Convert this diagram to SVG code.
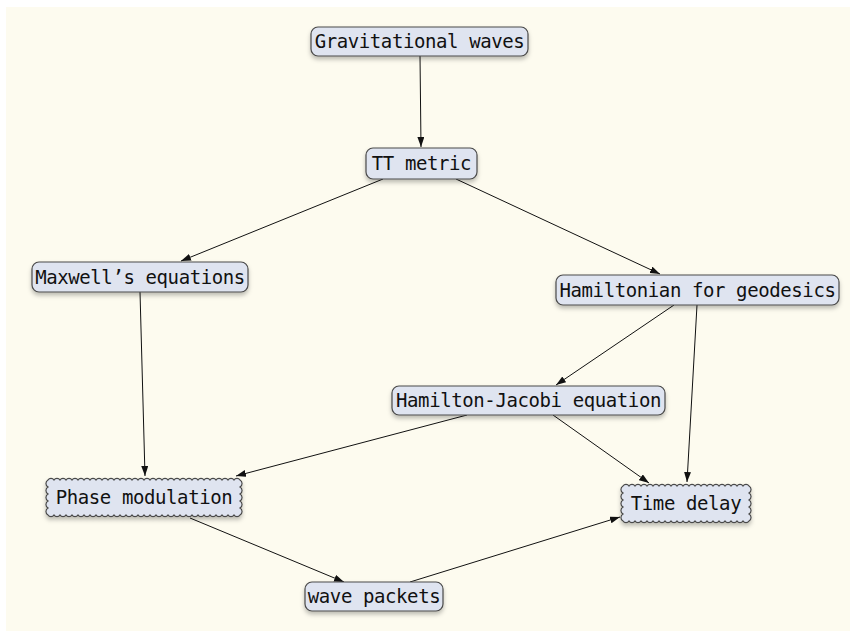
<svg xmlns="http://www.w3.org/2000/svg" width="850" height="631" viewBox="0 0 850 631">
<defs>
<style>
.box{fill:#dfe4f0;stroke:#4a4a4a;stroke-width:1.2;filter:url(#sh)}
.lbl{font-family:"DejaVu Sans Mono","Liberation Mono",monospace;font-size:19px;letter-spacing:-0.4px;fill:#111;text-anchor:middle}
.edge{stroke:#111;stroke-width:1;fill:none;marker-end:url(#ah)}
</style>
<filter id="sh" x="-10%" y="-30%" width="120%" height="170%">
<feDropShadow dx="0" dy="3" stdDeviation="2" flood-color="#000" flood-opacity="0.25"/>
</filter>
<marker id="ah" markerWidth="11" markerHeight="8" refX="10" refY="3.5" orient="auto" markerUnits="userSpaceOnUse">
<path d="M0,0 L10,3.5 L0,7 z" fill="#111"/>
</marker>
</defs>
<rect x="0" y="0" width="850" height="631" fill="#ffffff"/>
<rect x="6" y="7" width="844" height="624" fill="#fdfbef"/>
<g id="connectors">
<line class="edge" x1="420" y1="56" x2="421" y2="147"/>
<line class="edge" x1="383" y1="179" x2="181" y2="261"/>
<line class="edge" x1="456" y1="179" x2="660" y2="274"/>
<line class="edge" x1="140" y1="292" x2="145" y2="476"/>
<line class="edge" x1="674" y1="305" x2="556" y2="385"/>
<line class="edge" x1="697" y1="305" x2="687" y2="482"/>
<line class="edge" x1="467" y1="415" x2="236" y2="476"/>
<line class="edge" x1="553" y1="415" x2="649" y2="483"/>
<line class="edge" x1="190" y1="518" x2="344" y2="582"/>
<line class="edge" x1="410" y1="582" x2="620" y2="517"/>
</g>
<g id="n-gw">
<rect class="box" x="311" y="27" width="217" height="29" rx="7"/>
<text class="lbl" x="419.5" y="48">Gravitational waves</text>
</g>
<g id="n-tt">
<rect class="box" x="366" y="148" width="111" height="31" rx="7"/>
<text class="lbl" x="421.5" y="170">TT metric</text>
</g>
<g id="n-maxwell">
<rect class="box" x="32" y="262" width="216" height="30" rx="7"/>
<text class="lbl" x="140" y="283.5">Maxwell’s equations</text>
</g>
<g id="n-hamiltonian">
<rect class="box" x="556" y="275" width="283" height="30" rx="7"/>
<text class="lbl" x="697.5" y="296.5">Hamiltonian for geodesics</text>
</g>
<g id="n-hj">
<rect class="box" x="392" y="386" width="273" height="29" rx="7"/>
<text class="lbl" x="528.5" y="407">Hamilton-Jacobi equation</text>
</g>
<g id="n-phase">
<path class="box" d="M48,480 a3.5,3.5 0 0 1 6,0 a3.5,3.5 0 0 1 6,0 a3.5,3.5 0 0 1 6,0 a3.5,3.5 0 0 1 6,0 a3.5,3.5 0 0 1 6,0 a3.5,3.5 0 0 1 6,0 a3.5,3.5 0 0 1 6,0 a3.5,3.5 0 0 1 6,0 a3.5,3.5 0 0 1 6,0 a3.5,3.5 0 0 1 6,0 a3.5,3.5 0 0 1 6,0 a3.5,3.5 0 0 1 6,0 a3.5,3.5 0 0 1 6,0 a3.5,3.5 0 0 1 6,0 a3.5,3.5 0 0 1 6,0 a3.5,3.5 0 0 1 6,0 a3.5,3.5 0 0 1 6,0 a3.5,3.5 0 0 1 6,0 a3.5,3.5 0 0 1 6,0 a3.5,3.5 0 0 1 6,0 a3.5,3.5 0 0 1 6,0 a3.5,3.5 0 0 1 6,0 a3.5,3.5 0 0 1 6,0 a3.5,3.5 0 0 1 6,0 a3.5,3.5 0 0 1 6,0 a3.5,3.5 0 0 1 6,0 a3.5,3.5 0 0 1 6,0 a3.5,3.5 0 0 1 6,0 a3.5,3.5 0 0 1 6,0 a3.5,3.5 0 0 1 6,0 a3.5,3.5 0 0 1 6,0 a3.5,3.5 0 0 1 6,0 a4,4 0 0 1 0,7 a4,4 0 0 1 0,7 a4,4 0 0 1 0,7 a4,4 0 0 1 0,7 a4,4 0 0 1 0,7 a3.5,3.5 0 0 1 -6,0 a3.5,3.5 0 0 1 -6,0 a3.5,3.5 0 0 1 -6,0 a3.5,3.5 0 0 1 -6,0 a3.5,3.5 0 0 1 -6,0 a3.5,3.5 0 0 1 -6,0 a3.5,3.5 0 0 1 -6,0 a3.5,3.5 0 0 1 -6,0 a3.5,3.5 0 0 1 -6,0 a3.5,3.5 0 0 1 -6,0 a3.5,3.5 0 0 1 -6,0 a3.5,3.5 0 0 1 -6,0 a3.5,3.5 0 0 1 -6,0 a3.5,3.5 0 0 1 -6,0 a3.5,3.5 0 0 1 -6,0 a3.5,3.5 0 0 1 -6,0 a3.5,3.5 0 0 1 -6,0 a3.5,3.5 0 0 1 -6,0 a3.5,3.5 0 0 1 -6,0 a3.5,3.5 0 0 1 -6,0 a3.5,3.5 0 0 1 -6,0 a3.5,3.5 0 0 1 -6,0 a3.5,3.5 0 0 1 -6,0 a3.5,3.5 0 0 1 -6,0 a3.5,3.5 0 0 1 -6,0 a3.5,3.5 0 0 1 -6,0 a3.5,3.5 0 0 1 -6,0 a3.5,3.5 0 0 1 -6,0 a3.5,3.5 0 0 1 -6,0 a3.5,3.5 0 0 1 -6,0 a3.5,3.5 0 0 1 -6,0 a3.5,3.5 0 0 1 -6,0 a4,4 0 0 1 0,-7 a4,4 0 0 1 0,-7 a4,4 0 0 1 0,-7 a4,4 0 0 1 0,-7 a4,4 0 0 1 0,-7 z"/>
<text class="lbl" x="144" y="504">Phase modulation</text>
</g>
<g id="n-time">
<path class="box" d="M623,486 a3.5,3.5 0 0 1 6,0 a3.5,3.5 0 0 1 6,0 a3.5,3.5 0 0 1 6,0 a3.5,3.5 0 0 1 6,0 a3.5,3.5 0 0 1 6,0 a3.5,3.5 0 0 1 6,0 a3.5,3.5 0 0 1 6,0 a3.5,3.5 0 0 1 6,0 a3.5,3.5 0 0 1 6,0 a3.5,3.5 0 0 1 6,0 a3.5,3.5 0 0 1 6,0 a3.5,3.5 0 0 1 6,0 a3.5,3.5 0 0 1 6,0 a3.5,3.5 0 0 1 6,0 a3.5,3.5 0 0 1 6,0 a3.5,3.5 0 0 1 6,0 a3.5,3.5 0 0 1 6,0 a3.5,3.5 0 0 1 6,0 a3.5,3.5 0 0 1 6,0 a3.5,3.5 0 0 1 6,0 a3.5,3.5 0 0 1 6,0 a4,4 0 0 1 0,7 a4,4 0 0 1 0,7 a4,4 0 0 1 0,7 a4,4 0 0 1 0,7 a4,4 0 0 1 0,7 a3.5,3.5 0 0 1 -6,0 a3.5,3.5 0 0 1 -6,0 a3.5,3.5 0 0 1 -6,0 a3.5,3.5 0 0 1 -6,0 a3.5,3.5 0 0 1 -6,0 a3.5,3.5 0 0 1 -6,0 a3.5,3.5 0 0 1 -6,0 a3.5,3.5 0 0 1 -6,0 a3.5,3.5 0 0 1 -6,0 a3.5,3.5 0 0 1 -6,0 a3.5,3.5 0 0 1 -6,0 a3.5,3.5 0 0 1 -6,0 a3.5,3.5 0 0 1 -6,0 a3.5,3.5 0 0 1 -6,0 a3.5,3.5 0 0 1 -6,0 a3.5,3.5 0 0 1 -6,0 a3.5,3.5 0 0 1 -6,0 a3.5,3.5 0 0 1 -6,0 a3.5,3.5 0 0 1 -6,0 a3.5,3.5 0 0 1 -6,0 a3.5,3.5 0 0 1 -6,0 a4,4 0 0 1 0,-7 a4,4 0 0 1 0,-7 a4,4 0 0 1 0,-7 a4,4 0 0 1 0,-7 a4,4 0 0 1 0,-7 z"/>
<text class="lbl" x="686" y="510">Time delay</text>
</g>
<g id="n-packets">
<rect class="box" x="305" y="582" width="138" height="29" rx="7"/>
<text class="lbl" x="374" y="603">wave packets</text>
</g>
</svg>
